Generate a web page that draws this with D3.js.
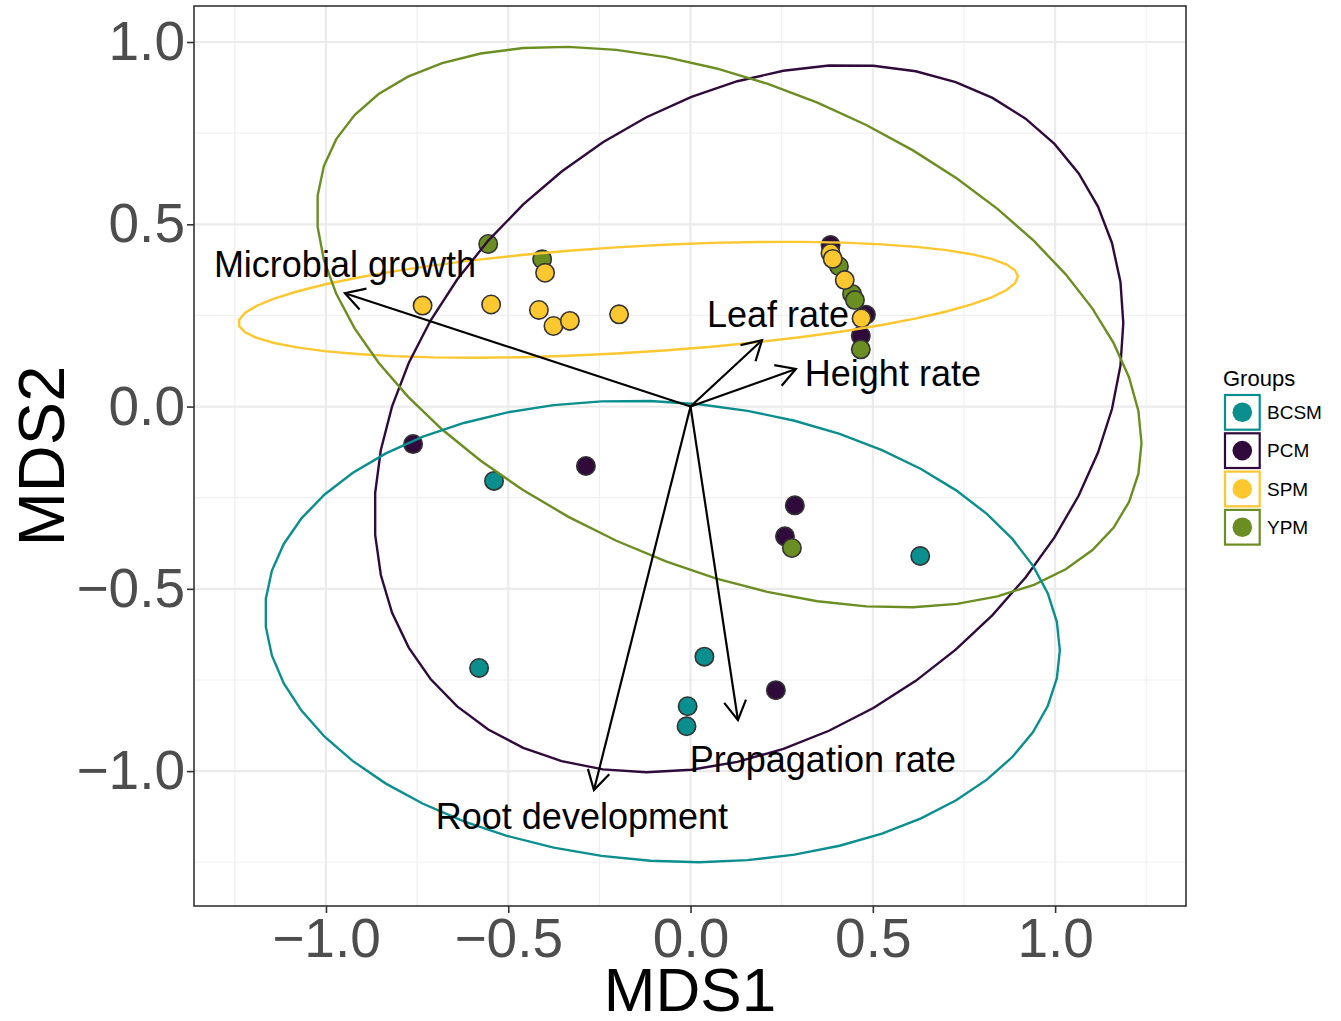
<!DOCTYPE html>
<html>
<head>
<meta charset="utf-8">
<script src="https://cdn.jsdelivr.net/npm/d3@7"></script>
<style>
  body { margin: 0; background: #fff; }
  text { font-family: 'Liberation Sans', Arial, Helvetica, sans-serif; }
</style>
</head>
<body>
<div id="chart"></div>
<script>
// groups and colours
const groups = ['BCSM', 'PCM', 'SPM', 'YPM']
const groupColors = ['#0b8e8e', '#2f0a3b', '#fdc72f', '#6a8e22']

// sample scores (MDS1, MDS2) per group
const bcsmX = [-0.539, -0.580, 0.630, 0.038, -0.008, -0.011]
const bcsmY = [-0.204, -0.717, -0.410, -0.686, -0.822, -0.877]
const pcmX = [-0.761, -0.287, 0.286, 0.259, 0.234, 0.384, 0.481, 0.467]
const pcmY = [-0.103, -0.163, -0.271, -0.356, -0.778, 0.443, 0.252, 0.194]
const ypmX = [-0.555, -0.407, 0.278, 0.407, 0.443, 0.451, 0.467]
const ypmY = [0.446, 0.404, -0.388, 0.385, 0.309, 0.292, 0.157]
const spmX = [-0.399, -0.735, -0.547, -0.416, -0.376, -0.331, -0.196, 0.384, 0.390, 0.423, 0.469]
const spmY = [0.367, 0.277, 0.280, 0.265, 0.221, 0.235, 0.253, 0.421, 0.405, 0.347, 0.242]

// ellipse parameters per group (centre, half extents, correlation)
const ellipseGroups = ['SPM', 'PCM', 'YPM', 'BCSM']
const ellCx = [-0.171, 0.160, 0.106, -0.077]
const ellCy = [0.293, -0.033, 0.218, -0.617]
const ellSx = [1.069, 1.027, 1.131, 1.090]
const ellSy = [0.159, 0.970, 0.769, 0.633]
const ellRho = [0.40, 0.27, -0.414, -0.081]

// fitted vectors
const vecNames = ['Microbial growth', 'Leaf rate', 'Height rate', 'Propagation rate', 'Root development']
const vecX = [-0.948, 0.196, 0.289, 0.130, -0.265]
const vecY = [0.311, 0.182, 0.103, -0.860, -1.052]
const vecLabelX = [-0.948, 0.240, 0.555, 0.363, -0.298]
const vecLabelY = [0.391, 0.254, 0.092, -0.967, -1.124]

const ticks = [-1.0, -0.5, 0.0, 0.5, 1.0]
const minorTicksX = [-1.25, -0.75, -0.25, 0.25, 0.75, 1.25]
const minorTicksY = [-1.25, -0.75, -0.25, 0.25, 0.75]

const panel = { left: 194, right: 1186, top: 6, bottom: 906 }

const svg = d3
  .select('#chart')
  .append('svg')
  .attr('width', 1341)
  .attr('height', 1021)

const x = d3.scaleLinear().domain([-1.362, 1.359]).range([panel.left, panel.right])
const y = d3.scaleLinear().domain([-1.370, 1.0988]).range([panel.bottom, panel.top])

const color = d3.scaleOrdinal().domain(groups).range(groupColors)
const fmt = d => (d < 0 ? '\u2212' : '') + d3.format('.1f')(Math.abs(d))

// grid
const grid = svg.append('g')
grid.selectAll('.minor-x').data(minorTicksX).enter().append('line')
  .attr('x1', d => x(d)).attr('x2', d => x(d))
  .attr('y1', panel.top).attr('y2', panel.bottom)
  .attr('stroke', '#f0f0f0').attr('stroke-width', 1.2)
grid.selectAll('.minor-y').data(minorTicksY).enter().append('line')
  .attr('y1', d => y(d)).attr('y2', d => y(d))
  .attr('x1', panel.left).attr('x2', panel.right)
  .attr('stroke', '#f0f0f0').attr('stroke-width', 1.2)
grid.selectAll('.major-x').data(ticks).enter().append('line')
  .attr('x1', d => x(d)).attr('x2', d => x(d))
  .attr('y1', panel.top).attr('y2', panel.bottom)
  .attr('stroke', '#ebebeb').attr('stroke-width', 2.2)
grid.selectAll('.major-y').data(ticks).enter().append('line')
  .attr('y1', d => y(d)).attr('y2', d => y(d))
  .attr('x1', panel.left).attr('x2', panel.right)
  .attr('stroke', '#ebebeb').attr('stroke-width', 2.2)

// points
const pointData = []
const addPts = (g, xs, ys) => xs.forEach((v, i) => pointData.push({ g: g, x: v, y: ys[i] }))
addPts('BCSM', bcsmX, bcsmY)
addPts('PCM', pcmX, pcmY)
addPts('YPM', ypmX, ypmY)
addPts('SPM', spmX, spmY)

svg.append('g')
  .selectAll('circle')
  .data(pointData)
  .enter()
  .append('circle')
  .attr('cx', d => x(d.x))
  .attr('cy', d => y(d.y))
  .attr('r', 9.2)
  .attr('fill', d => color(d.g))
  .attr('stroke', '#333')
  .attr('stroke-width', 1.6)

// ellipses
const line = d3.line().x(d => x(d[0])).y(d => y(d[1])).curve(d3.curveLinearClosed)
ellipseGroups.forEach((g, i) => {
  const phi = Math.acos(ellRho[i])
  const pts = d3.range(51).map(k => {
    const t = (2 * Math.PI * k) / 51
    return [ellCx[i] + ellSx[i] * Math.cos(t), ellCy[i] + ellSy[i] * Math.cos(t + phi)]
  })
  svg.append('path')
    .attr('d', line(pts))
    .attr('fill', 'none')
    .attr('stroke', color(g))
    .attr('stroke-width', 2.4)
})

// vectors
const arrows = svg.append('g')
vecNames.forEach((n, i) => {
  const x0 = x(0), y0 = y(0), x1 = x(vecX[i]), y1 = y(vecY[i])
  const ang = Math.atan2(y1 - y0, x1 - x0)
  const len = 22, spread = Math.PI / 6
  arrows.append('line')
    .attr('x1', x0).attr('y1', y0).attr('x2', x1).attr('y2', y1)
    .attr('stroke', '#000').attr('stroke-width', 2.2)
  arrows.append('path')
    .attr('d', 'M' + (x1 - len * Math.cos(ang - spread)) + ',' + (y1 - len * Math.sin(ang - spread)) +
      'L' + x1 + ',' + y1 +
      'L' + (x1 - len * Math.cos(ang + spread)) + ',' + (y1 - len * Math.sin(ang + spread)))
    .attr('fill', 'none').attr('stroke', '#000').attr('stroke-width', 2.2)
  arrows.append('text')
    .attr('x', x(vecLabelX[i]))
    .attr('y', y(vecLabelY[i]))
    .attr('dy', '0.35em')
    .attr('text-anchor', 'middle')
    .attr('font-size', 36)
    .attr('fill', '#000')
    .text(n)
})

// panel border
svg.append('rect')
  .attr('x', panel.left).attr('y', panel.top)
  .attr('width', panel.right - panel.left).attr('height', panel.bottom - panel.top)
  .attr('fill', 'none').attr('stroke', '#333').attr('stroke-width', 1.6)

// axes
const xAxis = svg.append('g')
  .attr('transform', 'translate(0,' + panel.bottom + ')')
  .call(d3.axisBottom(x).tickValues(ticks).tickFormat(fmt).tickSize(7).tickPadding(5))
const yAxis = svg.append('g')
  .attr('transform', 'translate(' + panel.left + ',0)')
  .call(d3.axisLeft(y).tickValues(ticks).tickFormat(fmt).tickSize(7).tickPadding(2))
;[xAxis, yAxis].forEach(a => {
  a.select('.domain').remove()
  a.selectAll('line').attr('stroke', '#333').attr('stroke-width', 1.6)
  a.selectAll('text')
    .attr('font-size', 55)
    .attr('fill', '#4d4d4d')
    .attr('font-family', "'Liberation Sans', Arial, sans-serif")
})

svg.append('text')
  .attr('x', (panel.left + panel.right) / 2)
  .attr('y', 1011)
  .attr('text-anchor', 'middle')
  .attr('font-size', 62)
  .text('MDS1')

svg.append('text')
  .attr('transform', 'translate(64,' + (panel.top + panel.bottom) / 2 + ') rotate(-90)')
  .attr('text-anchor', 'middle')
  .attr('font-size', 65)
  .text('MDS2')

// legend
const legend = svg.append('g').attr('transform', 'translate(1224,394)')
legend.append('text')
  .attr('x', -1).attr('y', -8)
  .attr('font-size', 22)
  .text('Groups')
groups.forEach((g, i) => {
  const k = legend.append('g').attr('transform', 'translate(0,' + i * 38.3 + ')')
  k.append('rect')
    .attr('x', 1).attr('y', 1).attr('width', 34.7).attr('height', 34.7)
    .attr('fill', '#fff').attr('stroke', color(g)).attr('stroke-width', 2.2)
  k.append('circle')
    .attr('cx', 18.3).attr('cy', 18.3).attr('r', 9.8)
    .attr('fill', color(g))
  k.append('text')
    .attr('x', 43).attr('y', 18.3).attr('dy', '0.35em')
    .attr('font-size', 19)
    .text(g)
})
</script>
</body>
</html>
